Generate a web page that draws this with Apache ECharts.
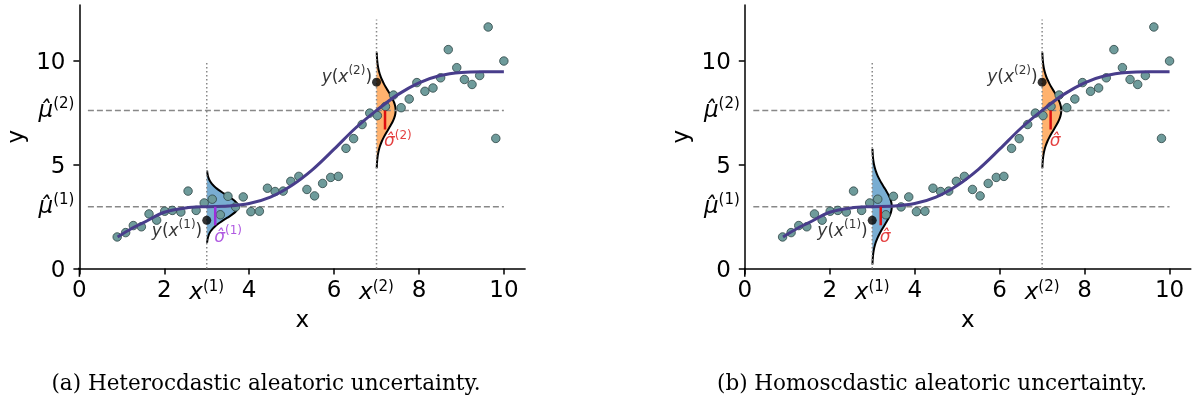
<!DOCTYPE html>
<html><head><meta charset="utf-8">
<script src="https://cdn.jsdelivr.net/npm/echarts@6/dist/echarts.min.js"></script>
<style>html,body{margin:0;padding:0;background:#fff}#c{width:1198px;height:400px}</style>
</head><body><div id="c"></div>
<script>
// ---- data ----
const xData = [0.89,1.09,1.27,1.46,1.64,1.82,2.01,2.19,2.39,2.56,2.75,2.94,3.13,3.32,3.50,3.68,3.86,4.04,4.24,4.43,4.61,4.80,4.98,5.17,5.36,5.54,5.73,5.92,6.10,6.28,6.46,6.66,6.84,7.02,7.21,7.40,7.58,7.77,7.95,8.14,8.33,8.51,8.69,8.89,9.07,9.25,9.43,9.63,9.81,10.00];
const yData = [1.52,1.73,2.07,2.01,2.63,2.33,2.76,2.80,2.72,3.73,2.80,3.16,3.34,2.59,3.48,2.97,3.45,2.74,2.76,3.87,3.71,3.73,4.20,4.44,3.81,3.50,4.10,4.39,4.44,5.79,6.26,6.94,7.49,7.37,7.81,8.36,7.75,8.17,8.96,8.54,8.70,9.19,10.55,9.68,9.11,8.87,9.30,11.64,6.27,10.00];
const curveX = [0.9,1.25,1.5,2,2.5,3,3.5,4,4.5,5,5.5,6,6.5,7,7.5,8,8.5,9,9.5,10];
const curveY = [1.52,1.95,2.2,2.71,2.92,2.98,3.01,3.13,3.44,4.0,4.78,5.75,6.76,7.62,8.38,8.95,9.30,9.45,9.48,9.48];
const xQuery = [3.0, 7.0];
const muHat = [2.98, 7.62];
const yObs = [2.32, 8.98];
const sigmaHetero = [0.58, 0.93];
const sigmaHomo = [0.93, 0.93];
const ampHetero = [0.74, 0.45];
const ampHomo = [0.46, 0.45];
const sigmaBarLen = [0.9, 0.92];
const sigmaBarDx = 0.2;
const dottedTop = [10, 12];
const dashedRange = [0.2, 10.0];
const xLim = [-0.3, 10.5];
const yLim = [-0.4, 12.7];
// standard bell profile (relative width at z = -3..3)
const bellZ = [-3,-2.8,-2.6,-2.4,-2.2,-2,-1.8,-1.6,-1.4,-1.2,-1,-0.8,-0.6,-0.4,-0.2,0,0.2,0.4,0.6,0.8,1,1.2,1.4,1.6,1.8,2,2.2,2.4,2.6,2.8,3];
const bellP = [0.0111,0.0198,0.0340,0.0561,0.0889,0.1353,0.1979,0.2780,0.3753,0.4868,0.6065,0.7261,0.8353,0.9231,0.9802,1,0.9802,0.9231,0.8353,0.7261,0.6065,0.4868,0.3753,0.2780,0.1979,0.1353,0.0889,0.0561,0.0340,0.0198,0.0111];
const xTicks = [0,2,4,6,8,10];
const yTicks = [0,5,10];
const captions = ['(a) Heterocdastic aleatoric uncertainty.', '(b) Homoscdastic aleatoric uncertainty.'];

// ---- styles ----
const FONT = 'DejaVu Sans';
const C_PT = '#6e9b9b', C_PT_EDGE = '#2f4545';
const C_CURVE = '#483d8b';
const C_BLUE = '#79add2', C_ORANGE = '#ffb26e';
const C_PURPLE = '#9b30d9', C_RED = '#dd1010';
const C_GRID = '#888888';

const grids = [
  {left: 79.4, top: 5, width: 445.7, height: 263.5},
  {left: 744.8, top: 5, width: 446, height: 263.5}
];

function near(a, b) { return Math.abs(a - b) < 1e-6; }

const xAxes = grids.map((g, i) => ({
  type: 'value', gridIndex: i, min: 0, max: xLim[1],
  name: 'x', nameLocation: 'middle', nameGap: 37,
  nameTextStyle: {fontFamily: FONT, fontSize: 23, color: '#000'},
  axisLine: {onZero: false, lineStyle: {color: '#000', width: 1.5}},
  axisTick: {show: true, customValues: xTicks, length: 6, lineStyle: {color: '#000', width: 1.5}},
  splitLine: {show: false},
  axisLabel: {
    customValues: xTicks.concat(xQuery), margin: 11, color: '#000', fontFamily: FONT, fontSize: 23,
    formatter: v => near(v, xQuery[0]) ? '{m|x}{s|(1)}' : near(v, xQuery[1]) ? '{m|x}{s|(2)}' : String(v),
    rich: {
      m: {fontFamily: FONT, fontSize: 23, fontStyle: 'italic', lineHeight: 28, padding: [2,0,0,0], verticalAlign: 'top', color: '#000'},
      s: {fontFamily: FONT, fontSize: 15, lineHeight: 18, verticalAlign: 'top', color: '#000'}
    }
  }
}));
const yAxes = grids.map((g, i) => ({
  type: 'value', gridIndex: i, min: 0, max: yLim[1],
  name: 'y', nameLocation: 'middle', nameGap: 51, nameRotate: 90,
  nameTextStyle: {fontFamily: FONT, fontSize: 23, color: '#000'},
  axisLine: {onZero: false, lineStyle: {color: '#000', width: 1.5}},
  axisTick: {show: true, customValues: yTicks, length: 6, lineStyle: {color: '#000', width: 1.5}},
  splitLine: {show: false},
  axisLabel: {
    customValues: yTicks.concat(muHat), margin: 5, color: '#000', fontFamily: FONT, fontSize: 23,
    formatter: v => near(v, muHat[0]) ? '{m|μ̂}{s|(1)}' : near(v, muHat[1]) ? '{m|μ̂}{s|(2)}' : '{d|' + v + '}',
    rich: {
      d: {fontFamily: FONT, fontSize: 23, lineHeight: 26, padding: [5,9,0,0], color: '#000'},
      m: {fontFamily: FONT, fontSize: 23, fontStyle: 'italic', lineHeight: 28, padding: [3,0,11,0], verticalAlign: 'top', color: '#000'},
      s: {fontFamily: FONT, fontSize: 15, lineHeight: 15, verticalAlign: 'top', color: '#000'}
    }
  }
}));

const annRich = (color) => ({
  i: {fontFamily: FONT, fontSize: 17, fontStyle: 'italic', lineHeight: 21, padding: [4,0,0,0], verticalAlign: 'top', color},
  n: {fontFamily: FONT, fontSize: 17, lineHeight: 21, padding: [4,0,0,0], verticalAlign: 'top', color},
  s: {fontFamily: FONT, fontSize: 12, lineHeight: 14, verticalAlign: 'top', color}
});

function gaussSeries(p, x0, m, s, amp, fill) {
  const pts = bellZ.map((z, k) => [x0 + amp * bellP[k], m + z * s]);
  return {
    type: 'custom', xAxisIndex: p, yAxisIndex: p, clip: false, silent: true,
    data: [[x0, m]],
    renderItem: (params, api) => {
      const c = pts.map(q => api.coord(q));
      const poly = [api.coord([x0, pts[0][1]])].concat(c, [api.coord([x0, pts[pts.length-1][1]])]);
      return {type: 'group', children: [
        {type: 'polygon', shape: {points: poly}, style: {fill: fill, stroke: null}},
        {type: 'polyline', shape: {points: c, smooth: 0.3}, style: {stroke: '#000', lineWidth: 2, fill: null}}
      ]};
    }
  };
}

function lineSeries(p, data, style, z, noclip) {
  return {type: 'line', xAxisIndex: p, yAxisIndex: p, data, symbol: 'none', silent: true,
          lineStyle: style, z: z || 2, clip: !noclip, animation: false};
}

const series = [];
[0, 1].forEach(p => {
  const sig = p === 0 ? sigmaHetero : sigmaHomo;
  const amp = p === 0 ? ampHetero : ampHomo;
  // spine extensions below/left of zero
  series.push(lineSeries(p, [[xLim[0], 0], [0, 0]], {color: '#000', width: 1.5}, 2, true));
  series.push(lineSeries(p, [[0, yLim[0]], [0, 0]], {color: '#000', width: 1.5}, 2, true));
  // dashed mean lines
  muHat.forEach(m => series.push(lineSeries(p, [[dashedRange[0], m], [dashedRange[1], m]], {color: C_GRID, width: 1.5, type: [6, 3]})));
  // dotted vertical lines
  xQuery.forEach((xq, k) => series.push(lineSeries(p, [[xq, 0], [xq, dottedTop[k]]], {color: C_GRID, width: 1.5, type: [1.5, 2.5]})));
  // gaussians
  series.push(gaussSeries(p, xQuery[0], muHat[0], sig[0], amp[0], C_BLUE));
  series.push(gaussSeries(p, xQuery[1], muHat[1], sig[1], amp[1], C_ORANGE));
  // data points
  series.push({type: 'scatter', xAxisIndex: p, yAxisIndex: p, silent: true,
    data: xData.map((x, k) => [x, yData[k]]), symbolSize: 8.5,
    itemStyle: {color: C_PT, borderColor: C_PT_EDGE, borderWidth: 0.8, opacity: 1}});
  // fitted curve
  series.push({type: 'line', xAxisIndex: p, yAxisIndex: p, silent: true, smooth: 0.35, symbol: 'none',
    data: curveX.map((x, k) => [x, curveY[k]]), lineStyle: {color: C_CURVE, width: 3}});
  // sigma bars
  const barColors = p === 0 ? [C_PURPLE, C_RED] : [C_RED, C_RED];
  xQuery.forEach((xq, k) => series.push(lineSeries(p,
    [[xq + sigmaBarDx, muHat[k]], [xq + sigmaBarDx, muHat[k] - sigmaBarLen[k]]],
    {color: barColors[k], width: 2.5}, 3)));
  // sigma labels
  xQuery.forEach((xq, k) => {
    const txt = p === 0 ? '{i|σ̂}{s|(' + (k + 1) + ')}' : '{i|σ̂}';
    series.push({type: 'scatter', xAxisIndex: p, yAxisIndex: p, silent: true, symbolSize: 0, z: 4,
      data: [[xq + sigmaBarDx, muHat[k] - sigmaBarLen[k]]],
      label: {show: true, position: [-1, 0], align: 'left', verticalAlign: 'top', formatter: txt, rich: annRich(barColors[k])}});
  });
  // observed points with labels
  series.push({type: 'scatter', xAxisIndex: p, yAxisIndex: p, silent: true, z: 5,
    symbolSize: 9, itemStyle: {color: '#000'},
    data: xQuery.map((xq, k) => ({
      value: [xq, yObs[k]],
      label: {show: true, position: 'left', distance: 0, offset: k === 0 ? [0, 9] : [0, -7],
        formatter: '{i|y}{n|(}{i|x}{s|(' + (k + 1) + ')}{n|)}', rich: annRich('#000')}
    }))});
});

const chart = echarts.init(document.getElementById('c'), null, {renderer: 'canvas'});
chart.setOption({
  animation: false,
  backgroundColor: '#fff',
  grid: grids.map(g => Object.assign({containLabel: false, outerBoundsMode: 'none'}, g)),
  xAxis: xAxes, yAxis: yAxes,
  series: series,
  graphic: [
    {type: 'text', x: 266, y: 384, style: {text: captions[0], font: '21.5px "DejaVu Serif"', fill: '#000', align: 'center', verticalAlign: 'middle'}},
    {type: 'text', x: 932, y: 384, style: {text: captions[1], font: '21.5px "DejaVu Serif"', fill: '#000', align: 'center', verticalAlign: 'middle'}}
  ]
});
</script></body></html>
